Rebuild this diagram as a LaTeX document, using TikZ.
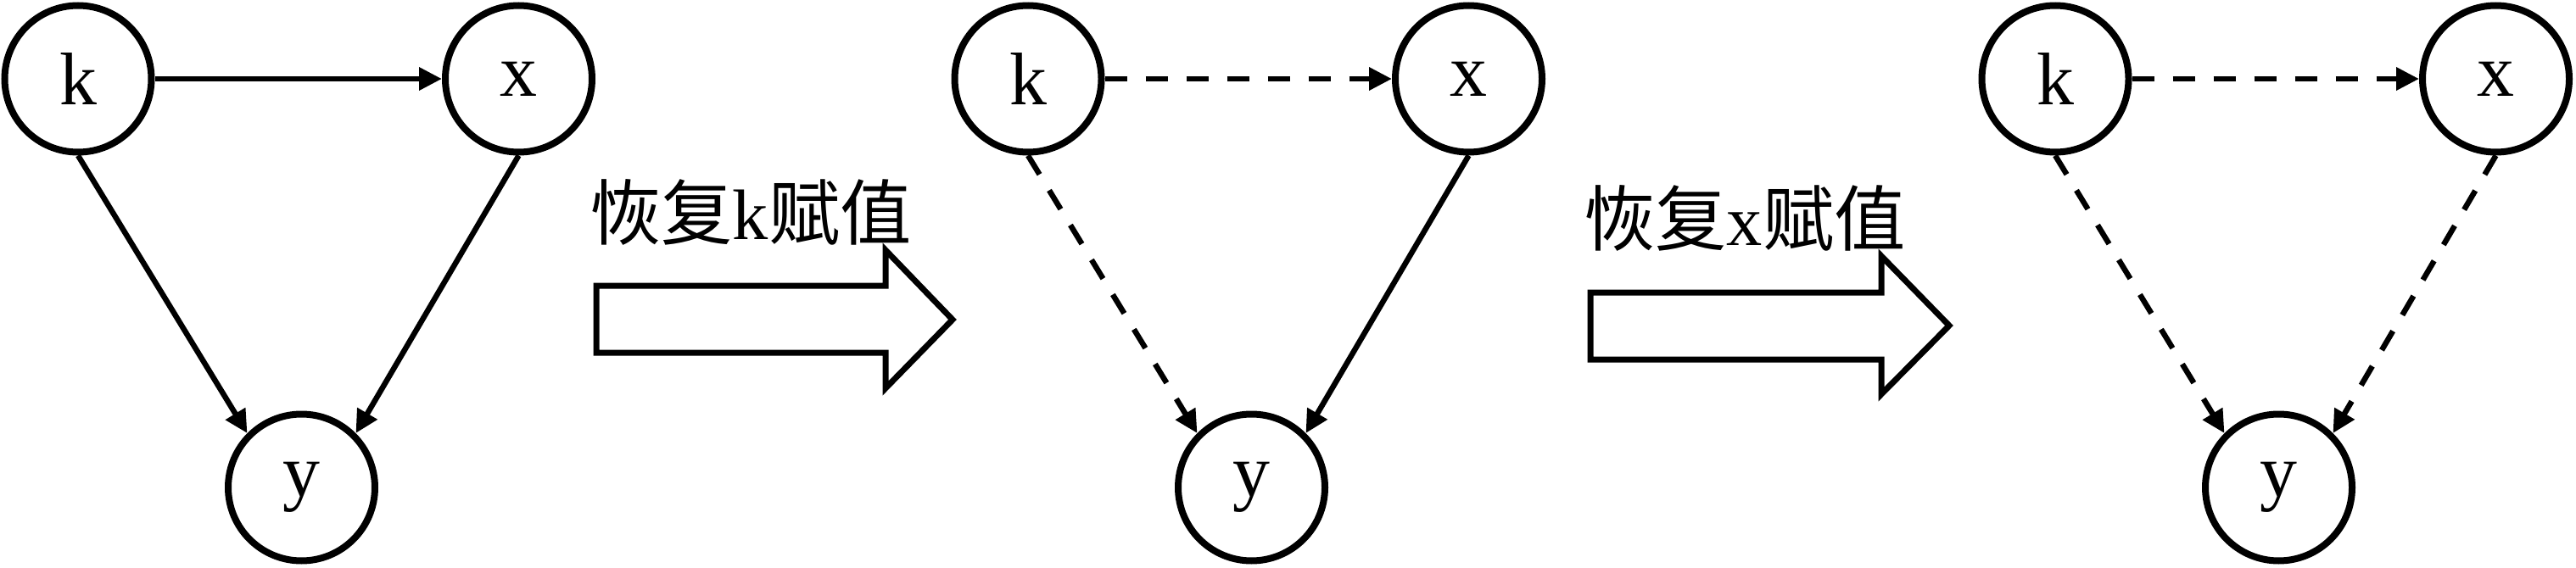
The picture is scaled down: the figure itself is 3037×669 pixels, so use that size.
\documentclass[tikz,border=0pt]{standalone}
\usepackage{fontspec}
\setmainfont{Liberation Serif}
\newfontfamily\cjk{Noto Sans CJK SC}
\usepackage{tikz}
\usetikzlibrary{arrows.meta,positioning,automata}

\begin{document}
\begin{tikzpicture}[x=0.1mm,y=-0.1mm,->,>={Triangle[length=2.7mm,width=2.6mm]},
	every state/.style={draw,line width=0.8mm,minimum size=17.3mm,inner sep=0pt,font=\fontsize{25}{30}\selectfont},
	every edge/.style={draw,line width=0.65mm},
	broken/.style={dash pattern=on 2.6mm off 2.2mm},
	bigarrow/.style={draw,line width=0.7mm,line join=miter,-},
	caption/.style={font=\fontsize{24}{29}\selectfont,inner sep=0pt}]
		\useasboundingbox (0,0) rectangle (3037,669);

		% first graph
		\node[state]
		(node1) at (92,93)								{k};
		\node[state]
		(node2) [on grid,right=51.95mm of node1]			{x};
		\node[state]
		(node3) [on grid,below right=48.2mm and 26.35mm of node1]	{y};

		\path[->] (node1) edge (node2);
		\path[->] (node1.south) edge (node3.north west);
		\path[->] (node2.south) edge (node3.north east);

		% k restored
		\node[caption] (label1) at (885,250) {{\cjk 恢复}k{\cjk 赋值}};
		\path[bigarrow] (703,337) -- (1044,337) -- (1044,295) -- (1123,377) -- (1044,458) -- (1044,416) -- (703,416) -- cycle;

		% second graph
		\node[state]
		(node4) at (1212,93)							{k};
		\node[state]
		(node5) [on grid,right=51.95mm of node4]			{x};
		\node[state]
		(node6) [on grid,below right=48.2mm and 26.35mm of node4]	{y};

		\path[->] (node4) edge [broken] (node5);
		\path[->] (node4.south) edge [broken] (node6.north west);
		\path[->] (node5.south) edge (node6.north east);

		% x restored
		\node[caption] (label2) at (2057,257) {{\cjk 恢复}x{\cjk 赋值}};
		\path[bigarrow] (1875,345) -- (2218,345) -- (2218,302) -- (2298,384) -- (2218,465) -- (2218,424) -- (1875,424) -- cycle;

		% third graph
		\node[state]
		(node7) at (2423,93)							{k};
		\node[state]
		(node8) [on grid,right=51.95mm of node7]			{x};
		\node[state]
		(node9) [on grid,below right=48.2mm and 26.35mm of node7]	{y};

		\path[->] (node7) edge [broken] (node8);
		\path[->] (node7.south) edge [broken] (node9.north west);
		\path[->] (node8.south) edge [broken] (node9.north east);
\end{tikzpicture}
\end{document}
